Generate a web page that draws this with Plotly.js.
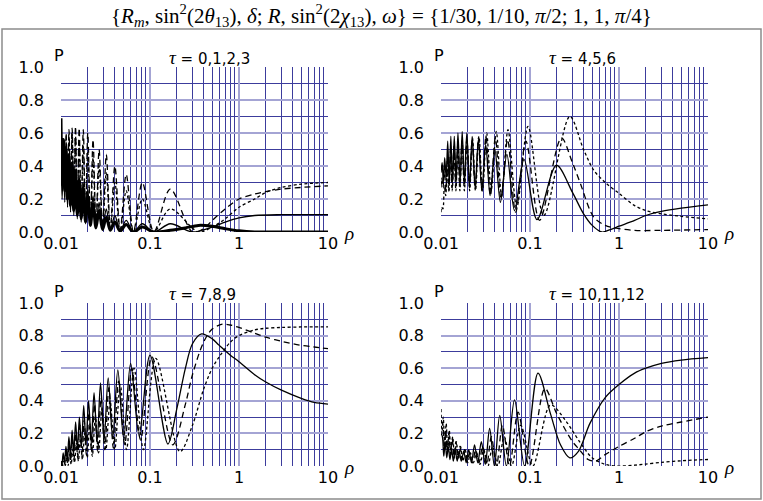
<!DOCTYPE html>
<html><head><meta charset="utf-8">
<script src="https://cdn.plot.ly/plotly-3.0.1.min.js"></script>
<style>body{margin:0;background:#fff}#c{width:763px;height:501px}</style>
</head><body><div id="c"></div>
<script>
// ---------- data ----------
// Panel 1: tau = 0,1,2,3
const p1_rho = [0.01,0.0103,0.01065,0.01102,0.01142,0.01184,0.0123,0.0128,0.01333,0.01392,0.01456,0.01524,0.0160,0.01685,0.0178,0.01885,0.0200,0.0214,0.0229,0.0247,0.0268,0.0293,0.0323,0.0358,0.0403,0.0462,0.054,0.0651,0.082,0.1105,0.169];
const p1_t0_P = [0.69,0.3,0.56,0.25,0.5,0.2,0.46,0.16,0.42,0.13,0.37,0.1,0.32,0.08,0.27,0.06,0.22,0.04,0.17,0.025,0.13,0.015,0.09,0.01,0.06,0.005,0.045,0.0,0.03,0.0,0.01];
const p1_t0_tailRho = [0.25,0.35,0.5,0.7,1,1.5,3,10];
const p1_t0_tailP = [0.025,0.04,0.035,0.02,0.007,0.0,0.0,0.0];
const p1_t1_P = [0.45,0.2,0.5,0.18,0.48,0.15,0.45,0.12,0.42,0.1,0.38,0.08,0.34,0.06,0.3,0.05,0.26,0.04,0.22,0.03,0.18,0.02,0.14,0.01,0.1,0.005,0.07,0.0,0.05,0.0,0.05];
const p1_t1_tailRho = [0.3,0.5,0.7,1,1.5,3,10];
const p1_t1_tailP = [0.0,0.03,0.06,0.085,0.1,0.105,0.105];
const p1_t2_P = [0.4,0.3,0.55,0.27,0.6,0.24,0.62,0.2,0.63,0.16,0.64,0.12,0.63,0.1,0.62,0.08,0.6,0.06,0.56,0.04,0.5,0.03,0.47,0.02,0.4,0.01,0.35,0.0,0.3,0.0,0.26];
const p1_t2_tailRho = [0.3,0.4,0.5,0.7,1,1.5,2,3,5,10];
const p1_t2_tailP = [0.0,0.02,0.07,0.14,0.2,0.23,0.245,0.26,0.27,0.28];
const p1_t3_P = [0.3,0.28,0.5,0.25,0.55,0.2,0.58,0.17,0.6,0.14,0.58,0.1,0.55,0.08,0.52,0.06,0.49,0.04,0.45,0.03,0.4,0.02,0.36,0.01,0.3,0.0,0.25,0.0,0.2,0.0,0.14];
const p1_t3_tailRho = [0.35,0.5,0.7,1,1.5,2,3,5,10];
const p1_t3_tailP = [0.0,0.03,0.08,0.15,0.2,0.24,0.27,0.29,0.30];

// Panel 2: tau = 4,5,6
const p2_t4_rho = [0.01,0.0103,0.01063,0.011,0.01143,0.0119,0.01236,0.0129,0.01346,0.0141,0.0148,0.0155,0.0164,0.0173,0.0183,0.0195,0.0209,0.0224,0.0242,0.0263,0.0288,0.0318,0.0356,0.0403,0.0465,0.055,0.067,0.0857,0.12,0.198,0.3,0.4,0.5,0.64,0.8,1,1.5,2,3,5,10];
const p2_t4_P = [0.36,0.42,0.3,0.45,0.33,0.55,0.3,0.58,0.3,0.58,0.3,0.6,0.3,0.61,0.3,0.6,0.28,0.58,0.27,0.56,0.25,0.53,0.22,0.5,0.18,0.47,0.13,0.44,0.075,0.405,0.24,0.11,0.04,0.0,0.015,0.035,0.07,0.1,0.125,0.145,0.165];
const p2_t5_rho = [0.01,0.0102,0.01054,0.0109,0.01134,0.0118,0.01228,0.0128,0.01338,0.014,0.0147,0.0155,0.0163,0.0172,0.0183,0.0195,0.0209,0.0224,0.0242,0.0264,0.0289,0.032,0.0359,0.0408,0.0473,0.056,0.069,0.09,0.128,0.225,0.3,0.365,0.52,0.7,0.9,1.5,3,10];
const p2_t5_P = [0.27,0.33,0.27,0.4,0.25,0.45,0.25,0.5,0.27,0.52,0.28,0.54,0.28,0.55,0.28,0.56,0.27,0.56,0.26,0.57,0.25,0.58,0.22,0.57,0.2,0.56,0.12,0.55,0.07,0.57,0.42,0.3,0.09,0.04,0.025,0.01,0.01,0.015];
const p2_t6_rho = [0.01,0.01013,0.0105,0.01088,0.0113,0.01175,0.01224,0.0128,0.01335,0.014,0.0147,0.0155,0.0163,0.0173,0.0183,0.0196,0.021,0.0226,0.0244,0.0267,0.0293,0.0326,0.0366,0.0418,0.048,0.0566,0.071,0.095,0.143,0.28,0.4,0.52,0.7,1,1.5,2,3,5,10];
const p2_t6_P = [0.12,0.15,0.14,0.28,0.22,0.38,0.25,0.45,0.25,0.5,0.25,0.52,0.25,0.55,0.25,0.55,0.25,0.57,0.25,0.58,0.25,0.6,0.25,0.61,0.22,0.62,0.15,0.64,0.1,0.70,0.5,0.375,0.3,0.234,0.16,0.13,0.11,0.095,0.08];

// Panel 3: tau = 7,8,9
const p3_t7_rho = [0.01,0.01023,0.01058,0.01096,0.01136,0.0118,0.01227,0.01278,0.01333,0.0139,0.0146,0.0153,0.0161,0.017,0.018,0.0191,0.0204,0.0219,0.0235,0.0255,0.0278,0.0305,0.0339,0.0381,0.0435,0.0506,0.0606,0.0755,0.1,0.159,0.2,0.25,0.3,0.38,0.5,0.6,0.8,1,1.5,2,3,5,7,10];
const p3_t7_P = [0.03,0.0,0.08,0.02,0.12,0.04,0.18,0.06,0.22,0.08,0.27,0.1,0.3,0.12,0.37,0.13,0.4,0.14,0.45,0.15,0.51,0.16,0.54,0.17,0.59,0.17,0.63,0.19,0.68,0.135,0.35,0.6,0.75,0.81,0.78,0.74,0.68,0.64,0.56,0.515,0.465,0.415,0.39,0.38];
const p3_t8_rho = [0.01,0.01028,0.01064,0.01102,0.01143,0.01187,0.01235,0.01286,0.01342,0.014,0.0147,0.0154,0.0163,0.0172,0.0182,0.0193,0.0206,0.0221,0.0238,0.0258,0.0282,0.031,0.0345,0.0388,0.0444,0.052,0.0625,0.0784,0.105,0.18,0.25,0.3,0.4,0.5,0.65,0.8,1,1.5,2,3,5,7,10];
const p3_t8_P = [0.02,0.0,0.06,0.01,0.1,0.02,0.14,0.03,0.17,0.04,0.2,0.05,0.25,0.06,0.28,0.07,0.33,0.08,0.38,0.09,0.42,0.1,0.48,0.11,0.52,0.13,0.6,0.16,0.67,0.13,0.38,0.56,0.76,0.84,0.87,0.865,0.85,0.815,0.79,0.765,0.74,0.73,0.72];
const p3_t9_rho = [0.01,0.01038,0.01074,0.01113,0.01155,0.012,0.01248,0.013,0.0136,0.0142,0.0149,0.0157,0.0165,0.0174,0.0185,0.0197,0.021,0.0225,0.0243,0.0264,0.0289,0.0319,0.0356,0.0402,0.0463,0.0545,0.0662,0.0844,0.116,0.217,0.3,0.4,0.5,0.6,0.8,1,1.5,2,3,5,10];
const p3_t9_P = [0.0,0.0,0.03,0.0,0.05,0.0,0.08,0.01,0.1,0.02,0.14,0.03,0.17,0.04,0.2,0.05,0.25,0.06,0.3,0.08,0.35,0.1,0.4,0.1,0.5,0.1,0.6,0.1,0.66,0.088,0.25,0.47,0.6,0.67,0.76,0.8,0.835,0.845,0.85,0.853,0.853];

// Panel 4: tau = 10,11,12
const p4_t10_rho = [0.01,0.01037,0.01075,0.01116,0.0116,0.01208,0.0126,0.01316,0.01377,0.01445,0.0152,0.016,0.0169,0.018,0.0192,0.0205,0.022,0.0238,0.0259,0.0284,0.0314,0.0352,0.0398,0.0457,0.0543,0.067,0.087,0.123,0.17,0.22,0.28,0.35,0.47,0.7,1,1.5,2,3,5,10];
const p4_t10_P = [0.2,0.18,0.06,0.15,0.05,0.12,0.04,0.1,0.03,0.1,0.03,0.09,0.03,0.09,0.02,0.1,0.02,0.13,0.02,0.15,0.01,0.23,0.0,0.31,0.0,0.406,0.0,0.57,0.32,0.13,0.05,0.09,0.26,0.42,0.5,0.57,0.6,0.63,0.65,0.665];
const p4_t11_rho = [0.01,0.0105,0.01089,0.01131,0.01176,0.01225,0.01279,0.01337,0.014,0.0147,0.0155,0.0163,0.0173,0.0184,0.0196,0.021,0.0226,0.0245,0.0267,0.0294,0.0327,0.0368,0.042,0.049,0.0588,0.0735,0.098,0.147,0.2,0.3,0.36,0.45,0.55,0.7,1,1.5,2,3,5,10];
const p4_t11_P = [0.28,0.25,0.1,0.22,0.08,0.2,0.07,0.17,0.06,0.15,0.05,0.12,0.04,0.1,0.03,0.08,0.02,0.1,0.02,0.12,0.01,0.18,0.0,0.25,0.0,0.33,0.0,0.475,0.32,0.15,0.1,0.04,0.03,0.07,0.12,0.17,0.21,0.245,0.27,0.3];
const p4_t12_rho = [0.01,0.01024,0.0106,0.011,0.01143,0.01189,0.01239,0.01294,0.01353,0.0142,0.0149,0.0157,0.0166,0.0176,0.0187,0.02,0.0214,0.0231,0.0251,0.0274,0.0302,0.0337,0.038,0.0437,0.0513,0.0621,0.0787,0.1075,0.17,0.25,0.36,0.5,0.7,0.9,1.5,2,3,5,10];
const p4_t12_P = [0.35,0.2,0.3,0.12,0.26,0.09,0.22,0.07,0.18,0.05,0.15,0.04,0.12,0.03,0.1,0.02,0.08,0.02,0.08,0.01,0.1,0.0,0.12,0.0,0.18,0.0,0.25,0.0,0.375,0.28,0.15,0.05,0.01,0.0,0.005,0.012,0.022,0.032,0.04];

// tick labels
const xTickVals = [0.01,0.1,1,10];
const xTickText = ['0.01','0.1','1','10'];
const yTickVals = [0,0.2,0.4,0.6,0.8,1.0];
const yTickText = ['0.0','0.2','0.4','0.6','0.8','1.0'];
const xMinorVals = [0.02,0.03,0.04,0.05,0.06,0.07,0.08,0.09,0.2,0.3,0.4,0.5,0.6,0.7,0.8,0.9,2,3,4,5,6,7,8,9];
const yMinorVals = [0.1,0.3,0.5,0.7,0.9];
const panelTitles = ['0,1,2,3','4,5,6','7,8,9','10,11,12'];

// ---------- styles ----------
const SOLID = {color:'#000', width:1.3, dash:'solid'};
const THICK = {color:'#000', width:3, dash:'solid'};
const LDASH = {color:'#000', width:1.3, dash:'6px,4px'};
const SDASH = {color:'#000', width:1.3, dash:'3px,2.5px'};

function tr(x, y, line, ax){
  return {x:x, y:y, type:'scatter', mode:'lines', xaxis:'x'+ax, yaxis:'y'+ax,
    line:Object.assign({shape:'spline', smoothing:0.9}, line), hoverinfo:'skip'};
}
const traces = [
  tr(p1_rho.concat(p1_t0_tailRho), p1_t0_P.concat(p1_t0_tailP), THICK, ''),
  tr(p1_rho.concat(p1_t1_tailRho), p1_t1_P.concat(p1_t1_tailP), SOLID, ''),
  tr(p1_rho.concat(p1_t2_tailRho), p1_t2_P.concat(p1_t2_tailP), LDASH, ''),
  tr(p1_rho.concat(p1_t3_tailRho), p1_t3_P.concat(p1_t3_tailP), SDASH, ''),
  tr(p2_t4_rho, p2_t4_P, SOLID, '2'),
  tr(p2_t5_rho, p2_t5_P, LDASH, '2'),
  tr(p2_t6_rho, p2_t6_P, SDASH, '2'),
  tr(p3_t7_rho, p3_t7_P, SOLID, '3'),
  tr(p3_t8_rho, p3_t8_P, LDASH, '3'),
  tr(p3_t9_rho, p3_t9_P, SDASH, '3'),
  tr(p4_t10_rho, p4_t10_P, SOLID, '4'),
  tr(p4_t11_rho, p4_t11_P, LDASH, '4'),
  tr(p4_t12_rho, p4_t12_P, SDASH, '4')
];

const W = 763, H = 501;
const MAJ = '#a4a4d4', MIN = '#3c3c9c';
const TF = {family:'DejaVu Sans', size:16, color:'#000'};
function xax(l, r, anchor){
  return {type:'log', domain:[l/W, r/W], range:[-2,1], anchor:anchor,
    tickmode:'array', tickvals:xTickVals, ticktext:xTickText, tickfont:TF,
    showgrid:true, gridcolor:MAJ, gridwidth:2, zeroline:false, showline:false, ticks:'',
    minor:{tickmode:'array', tickvals:xMinorVals, showgrid:true, gridcolor:MIN, gridwidth:1, ticks:''},
    fixedrange:true};
}
function yax(t, b, anchor){
  return {domain:[1-b/H, 1-t/H], range:[0,1], anchor:anchor,
    tickmode:'array', tickvals:yTickVals, ticktext:yTickText, tickfont:TF, ticklabelstandoff:16,
    showgrid:true, gridcolor:MAJ, gridwidth:2, zeroline:false, showline:false, ticks:'',
    minor:{tickmode:'array', tickvals:yMinorVals, showgrid:true, gridcolor:MIN, gridwidth:1, ticks:''},
    fixedrange:true};
}
function ann(text, px, py, font, xa, ya){
  return {text:text, xref:'paper', yref:'paper', x:px/W, y:1-py/H, showarrow:false,
    xanchor:xa||'center', yanchor:ya||'middle', font:font};
}
const SERIF = 'Liberation Serif';
const annots = [
  ann('{<i>R</i><sub><i>m</i></sub>, sin<sup>2</sup>(2<i>θ</i><sub>13</sub>), <i>δ</i>; <i>R</i>, sin<sup>2</sup>(2<i>χ</i><sub>13</sub>), <i>ω</i>} = {1/30, 1/10, <i>π</i>/2; 1, 1, <i>π</i>/4}',
      381, 15, {family:SERIF, size:21, color:'#000'})
];
const lefts = [61, 441, 61, 441], tops = [67, 67, 303, 303], bots = [232, 232, 466, 466];
for (let i = 0; i < 4; i++){
  annots.push(ann('<span style="font-family:Liberation Serif;font-size:19px"><i>τ</i></span> = ' + panelTitles[i],
    lefts[i] + 106, tops[i] - 10, {family:'DejaVu Sans', size:15, color:'#000'}, 'left'));
  annots.push(ann('P', lefts[i] - 2, tops[i] - 12, {family:'DejaVu Sans', size:16, color:'#000'}));
  annots.push(ann('<i>ρ</i>', lefts[i] + 288, bots[i] + 1, {family:SERIF, size:19, color:'#000'}));
}

const layout = {
  width:W, height:H, margin:{l:0, r:0, t:0, b:0},
  paper_bgcolor:'#fff', plot_bgcolor:'#fff', showlegend:false,
  xaxis:xax(61, 328, 'y'), yaxis:yax(67, 232, 'x'),
  xaxis2:xax(441, 708, 'y2'), yaxis2:yax(67, 232, 'x2'),
  xaxis3:xax(61, 328, 'y3'), yaxis3:yax(303, 466, 'x3'),
  xaxis4:xax(441, 708, 'y4'), yaxis4:yax(303, 466, 'x4'),
  annotations:annots,
  shapes:[{type:'rect', xref:'paper', yref:'paper', x0:2/W, x1:761/W, y0:1-499/H, y1:1-29/H,
    line:{color:'#8c8c8c', width:1.5}, fillcolor:'rgba(0,0,0,0)', layer:'below'}]
};
Plotly.newPlot('c', traces, layout, {staticPlot:true, displayModeBar:false});
</script>
</body></html>
